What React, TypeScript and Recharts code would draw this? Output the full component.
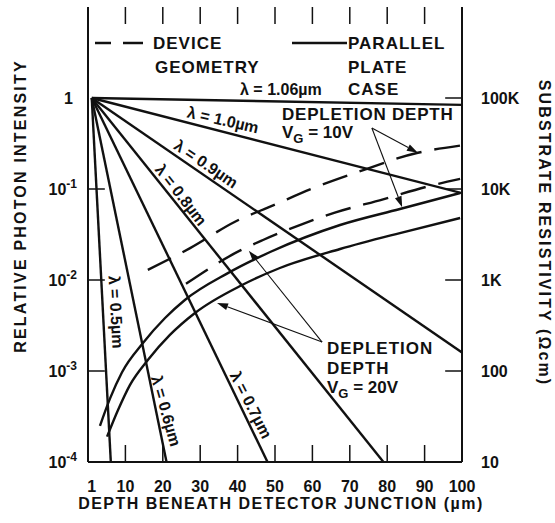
import { LineChart, Line, XAxis, YAxis, ReferenceLine } from "recharts";

const W = 555;
const H = 523;
const PLOT_L = 88;
const PLOT_R = 462;
const PLOT_T = 7;
const PLOT_B = 462;
const INK = "#111";
const FONT = '"Liberation Sans", Arial, Helvetica, sans-serif';
const STUB = 17;

// depth beneath the junction (µm)
const depthTicks = [1, 10, 20, 30, 40, 50, 60, 70, 80, 90, 100];
const innerDepthTicks = [10, 20, 30, 40, 50, 60, 70, 80, 90];
const depthDomain = [0, 100];
// length of the side tick stubs, in depth units
const stubDepth = 4.5;

// relative photon intensity (left, log)
const intensityTicks = [1e-4, 1e-3, 1e-2, 1e-1, 1];
const intensityExp = ["-4", "-3", "-2", "-1", ""];
const innerIntensityTicks = [1e-3, 1e-2, 1e-1];

// substrate resistivity in ohm-cm (right, log)
const resistivityTicks = [10, 100, 1000, 10000, 100000];
const resistivityLabels = ["10", "100", "1K", "10K", "100K"];
const innerResistivityTicks = [100, 1000, 10000, 100000];

// absorption lines, each one from (1 µm, 1) to its end point
const wavelengths = ["1.06", "1.0", "0.9", "0.8", "0.7", "0.6", "0.5"];
const endDepth = [100, 100, 100, 79, 48, 21, 6.1];
const endIntensity = [0.84, 0.09, 0.0016, 1e-4, 1e-4, 1e-4, 1e-4];

// depletion depth, device geometry (dashed)
const geom10Depth = [16, 27.3, 39.3, 49.5, 60.2, 71.4, 88.2, 99.5];
const geom10Res = [1290, 2240, 4370, 6600, 10200, 15000, 25000, 30000];
const geom20Depth = [26.2, 40.6, 46.8, 57.5, 66, 78.9, 90.6, 99.5];
const geom20Res = [910, 2100, 2750, 4150, 5500, 7700, 10600, 12900];

// depletion depth, parallel plate case (solid)
const plate10Depth = [3.2, 5.9, 9.1, 14.7, 20.6, 25.9, 37.4, 48.7, 67.4, 83.4, 99.5];
const plate10Res = [25, 50, 97, 203, 382, 603, 1190, 2030, 4020, 6030, 9040];
const plate20Depth = [5.1, 8.0, 11.2, 16.0, 21.9, 28.6, 41.2, 51.3, 67.4, 83.4, 99.5];
const plate20Res = [19, 37, 70, 132, 249, 434, 881, 1355, 2190, 3280, 4800];

// callout arrows (depth, resistivity)
const arrowFrom = [
  [75.9, 46800],
  [75.9, 46800],
  [62.6, 208],
  [62.6, 208],
];
const arrowTo = [
  [88.2, 25000],
  [84.0, 6300],
  [43.0, 2100],
  [34.5, 560],
];

const absorption = wavelengths.map((w, i) => ({
  name: w,
  data: [
    { depth: 1, value: 1 },
    { depth: endDepth[i], value: endIntensity[i] },
  ],
}));

const zip = (d: number[], r: number[]) => d.map((x, i) => ({ depth: x, value: r[i] }));

const depletion = [
  { name: "geom10", data: zip(geom10Depth, geom10Res), dashed: true },
  { name: "geom20", data: zip(geom20Depth, geom20Res), dashed: true },
  { name: "plate10", data: zip(plate10Depth, plate10Res), dashed: false },
  { name: "plate20", data: zip(plate20Depth, plate20Res), dashed: false },
];

// short inward ticks along the left and right frame
const leftStubs = innerIntensityTicks.map((v) => [
  { depth: depthDomain[0], value: v },
  { depth: depthDomain[0] + stubDepth, value: v },
]);
const rightStubs = innerResistivityTicks.map((v) => [
  { depth: depthDomain[1] - stubDepth, value: v },
  { depth: depthDomain[1], value: v },
]);

// where the wavelength tags sit along their lines
const lambdaTags = [
  { text: "λ = 1.0µm", x: 223, y: 120, angle: 13 },
  { text: "λ = 0.9µm", x: 206, y: 164, angle: 34 },
  { text: "λ = 0.8µm", x: 181, y: 195, angle: 52 },
  { text: "λ = 0.7µm", x: 251, y: 405, angle: 63 },
  { text: "λ = 0.6µm", x: 166, y: 411, angle: 74 },
  { text: "λ = 0.5µm", x: 116, y: 312, angle: 87 },
];

const tickText = { fontFamily: FONT, fontWeight: "bold" as const, fontSize: 16, fill: INK };
const frame = { stroke: INK, strokeWidth: 2 };

function DepthTick({ x, y, payload }: any) {
  return (
    <text x={x} y={y + 22} textAnchor="middle" {...tickText}>
      {payload.value}
    </text>
  );
}

function IntensityTick({ x, y, payload }: any) {
  const i = intensityTicks.indexOf(payload.value);
  const exp = intensityExp[i];
  return (
    <text x={exp ? x - 3 : x - 7} y={y + 6} textAnchor="end" {...tickText}>
      <tspan>{exp ? "10" : "1"}</tspan>
      {exp && (
        <tspan dy={-7} fontSize={12}>
          {exp}
        </tspan>
      )}
    </text>
  );
}

function ResistivityTick({ x, y, payload }: any) {
  const i = resistivityTicks.indexOf(payload.value);
  return (
    <text x={x + 11} y={y + 6} textAnchor="start" {...tickText}>
      {resistivityLabels[i]}
    </text>
  );
}

// inward tick stubs drawn at both ends of a full-height reference line
function VerticalStubs(p: any) {
  const top = Math.min(p.y1, p.y2);
  const bottom = Math.max(p.y1, p.y2);
  return (
    <g stroke={INK} strokeWidth={1.5}>
      <line x1={p.x1} x2={p.x1} y1={top} y2={top + STUB} />
      <line x1={p.x1} x2={p.x1} y1={bottom} y2={bottom - STUB} />
    </g>
  );
}

function Arrow(p: any) {
  const { x1, y1, x2, y2 } = p;
  const a = Math.atan2(y2 - y1, x2 - x1);
  const len = 11;
  const half = 3.5;
  const bx = x2 - len * Math.cos(a);
  const by = y2 - len * Math.sin(a);
  const pts = [
    [x2, y2],
    [bx - half * Math.sin(a), by + half * Math.cos(a)],
    [bx + half * Math.sin(a), by - half * Math.cos(a)],
  ]
    .map((q) => q.join(","))
    .join(" ");
  return (
    <g>
      <line x1={x1} y1={y1} x2={bx} y2={by} stroke={INK} strokeWidth={1.1} />
      <polygon points={pts} fill={INK} />
    </g>
  );
}

function Notes() {
  const t = { fontFamily: FONT, fontWeight: "bold" as const, fontSize: 17, fill: INK };
  return (
    <svg
      width={W}
      height={H}
      style={{ position: "absolute", left: 0, top: 0, pointerEvents: "none" }}
    >
      {/* key */}
      <line x1={95} x2={111} y1={43} y2={43} stroke={INK} strokeWidth={2.5} />
      <line x1={123} x2={143} y1={43} y2={43} stroke={INK} strokeWidth={2.5} />
      <text x={153} y={49} {...t} letterSpacing={1}>DEVICE</text>
      <text x={155} y={73} {...t} letterSpacing={1}>GEOMETRY</text>
      <line x1={292} x2={347} y1={43} y2={43} stroke={INK} strokeWidth={2.5} />
      <text x={348} y={49} {...t} letterSpacing={1}>PARALLEL</text>
      <text x={348} y={73} {...t} letterSpacing={1}>PLATE</text>
      <text x={348} y={95} {...t} letterSpacing={1}>CASE</text>
      <text x={240} y={95} {...t} fontSize={16}>λ = 1.06µm</text>

      {lambdaTags.map((g) => (
        <text
          key={g.text}
          x={g.x}
          y={g.y}
          {...t}
          fontSize={16}
          textAnchor="middle"
          dominantBaseline="central"
          transform={`rotate(${g.angle} ${g.x} ${g.y})`}
        >
          {g.text}
        </text>
      ))}

      <text x={282} y={120} {...t} letterSpacing={0.8}>DEPLETION DEPTH</text>
      <text x={282} y={138} {...t}>
        <tspan>V</tspan>
        <tspan dy={5} fontSize={13}>G</tspan>
        <tspan dy={-5}> = 10V</tspan>
      </text>
      <text x={327} y={354} {...t} letterSpacing={1}>DEPLETION</text>
      <text x={327} y={374} {...t} letterSpacing={1}>DEPTH</text>
      <text x={327} y={393} {...t}>
        <tspan>V</tspan>
        <tspan dy={5} fontSize={13}>G</tspan>
        <tspan dy={-5}> = 20V</tspan>
      </text>

      {/* axis titles */}
      <text
        x={20}
        y={206}
        {...t}
        fontSize={16}
        letterSpacing={2.2}
        textAnchor="middle"
        dominantBaseline="central"
        transform="rotate(-90 20 206)"
      >
        RELATIVE PHOTON INTENSITY
      </text>
      <text
        x={544}
        y={233}
        {...t}
        fontSize={16}
        letterSpacing={2.1}
        textAnchor="middle"
        dominantBaseline="central"
        transform="rotate(90 544 233)"
      >
        SUBSTRATE RESISTIVITY (Ωcm)
      </text>
      <text x={281} y={509} {...t} fontSize={16} letterSpacing={1.5} textAnchor="middle">
        DEPTH BENEATH DETECTOR JUNCTION (µm)
      </text>
    </svg>
  );
}

export default function App() {
  return (
    <div style={{ position: "absolute", left: 0, top: 0, width: W, height: H, background: "#fff" }}>
      <LineChart width={W} height={H} margin={{ top: PLOT_T, right: 0, bottom: 0, left: 0 }}>
        <XAxis
          xAxisId="b"
          dataKey="depth"
          type="number"
          domain={depthDomain}
          ticks={depthTicks}
          interval={0}
          height={H - PLOT_B}
          tickLine={false}
          tick={<DepthTick />}
          axisLine={frame}
          allowDataOverflow
        />
        <XAxis
          xAxisId="t"
          orientation="top"
          type="number"
          domain={depthDomain}
          height={0}
          tickLine={false}
          tick={false}
          axisLine={frame}
        />
        <YAxis
          yAxisId="left"
          scale="log"
          type="number"
          domain={[1e-4, 10]}
          ticks={intensityTicks}
          interval={0}
          width={PLOT_L}
          tickLine={false}
          tick={<IntensityTick />}
          axisLine={frame}
          allowDataOverflow
        />
        <YAxis
          yAxisId="right"
          orientation="right"
          scale="log"
          type="number"
          domain={[10, 1e6]}
          ticks={resistivityTicks}
          interval={0}
          width={W - PLOT_R}
          tickLine={false}
          tick={<ResistivityTick />}
          axisLine={frame}
          allowDataOverflow
        />

        {innerDepthTicks.map((v) => (
          <ReferenceLine key={`x${v}`} xAxisId="b" yAxisId="left" x={v} shape={VerticalStubs} />
        ))}
        {leftStubs.map((d, i) => (
          <Line
            key={`ls${i}`}
            xAxisId="b"
            yAxisId="left"
            data={d}
            dataKey="value"
            type="linear"
            stroke={INK}
            strokeWidth={1.5}
            dot={false}
            activeDot={false}
            isAnimationActive={false}
          />
        ))}
        {rightStubs.map((d, i) => (
          <Line
            key={`rs${i}`}
            xAxisId="b"
            yAxisId="right"
            data={d}
            dataKey="value"
            type="linear"
            stroke={INK}
            strokeWidth={1.5}
            dot={false}
            activeDot={false}
            isAnimationActive={false}
          />
        ))}

        {absorption.map((s) => (
          <Line
            key={s.name}
            xAxisId="b"
            yAxisId="left"
            data={s.data}
            dataKey="value"
            type="linear"
            stroke={INK}
            strokeWidth={2.4}
            dot={false}
            activeDot={false}
            isAnimationActive={false}
          />
        ))}

        {depletion.map((s) => (
          <Line
            key={s.name}
            xAxisId="b"
            yAxisId="right"
            data={s.data}
            dataKey="value"
            type="monotone"
            stroke={INK}
            strokeWidth={2.4}
            strokeDasharray={s.dashed ? "26 13" : undefined}
            dot={false}
            activeDot={false}
            isAnimationActive={false}
          />
        ))}

        {arrowFrom.map((f, i) => (
          <ReferenceLine
            key={i}
            xAxisId="b"
            yAxisId="right"
            segment={[
              { x: f[0], y: f[1] },
              { x: arrowTo[i][0], y: arrowTo[i][1] },
            ]}
            ifOverflow="visible"
            shape={Arrow}
          />
        ))}
      </LineChart>
      <Notes />
    </div>
  );
}
